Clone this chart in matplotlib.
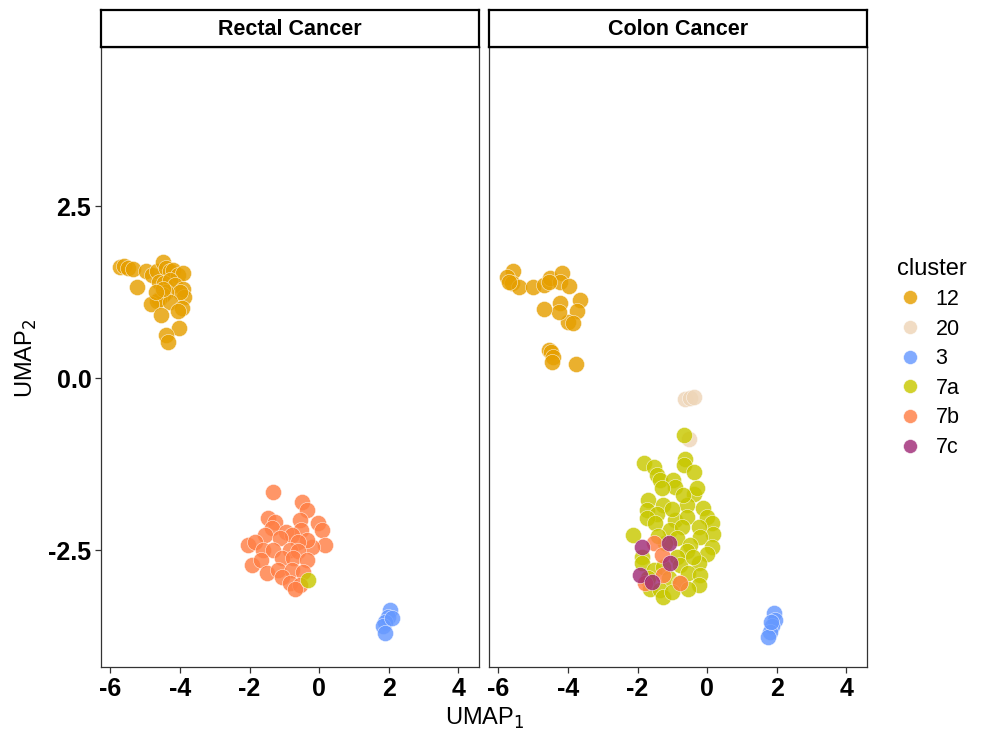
import numpy as np
import matplotlib
matplotlib.use("Agg")
import matplotlib.pyplot as plt
from matplotlib.lines import Line2D

plt.rcParams['font.family'] = ['Liberation Sans', 'DejaVu Sans']

# ---- data ----
clusters = ['12', '20', '3', '7a', '7b', '7c']
colors = {'12': '#E69F00', '20': '#EED5B7', '3': '#6699FF',
          '7a': '#C8C800', '7b': '#FF7F45', '7c': '#A02C78'}

rectal_12_x = [-5.73, -5.6, -5.5, -5.35, -5.24, -4.98, -4.8, -4.65, -4.5, -4.4, -4.3, -4.2,
               -4.05, -3.92, -4.6, -4.45, -4.3, -4.15, -3.92, -3.88, -4.0, -4.4, -4.5, -4.6,
               -4.65, -4.82, -4.3, -3.95, -4.05, -4.55, -4.02, -4.4, -4.35, -4.5, -4.7]
rectal_12_y = [1.62, 1.63, 1.6, 1.58, 1.32, 1.55, 1.5, 1.55, 1.68, 1.6, 1.55, 1.57,
               1.5, 1.52, 1.4, 1.38, 1.42, 1.35, 1.3, 1.18, 1.25, 1.25, 1.2, 1.15,
               1.12, 1.08, 1.1, 1.02, 0.98, 0.92, 0.73, 0.62, 0.52, 1.3, 1.25]

rectal_7b_x = [-1.32, -0.48, -0.34, -1.47, -1.27, -0.55, -0.03, 0.07, -1.37, -0.51, -0.94,
               -1.56, -0.79, -1.13, -2.04, -1.85, 0.16, -0.22, -0.36, -0.6, -1.61, -1.32,
               -0.84, -0.6, -1.94, -1.66, -1.08, -0.75, -0.36, -1.51, -1.18, -0.79, -0.46,
               -1.08, -0.84, -0.55, -0.7]
rectal_7b_y = [-1.65, -1.8, -1.92, -2.04, -2.09, -2.06, -2.11, -2.21, -2.18, -2.21, -2.23,
               -2.28, -2.28, -2.33, -2.43, -2.38, -2.43, -2.45, -2.35, -2.38, -2.5, -2.5,
               -2.5, -2.52, -2.72, -2.65, -2.62, -2.62, -2.65, -2.84, -2.79, -2.79, -2.82,
               -2.89, -2.98, -3.01, -3.06]

rectal_7a_x = [-0.32]
rectal_7a_y = [-2.93]

rectal_3_x = [2.03, 1.98, 1.89, 1.84, 1.89, 2.08]
rectal_3_y = [-3.37, -3.47, -3.54, -3.61, -3.71, -3.49]

colon_12_x = [-5.57, -5.76, -5.61, -5.42, -5.01, -4.68, -4.51, -4.18, -4.22, -3.96, -3.67,
              -3.74, -3.99, -3.85, -4.22, -4.27, -4.68, -4.56, -4.5, -4.42, -4.46, -3.76,
              -4.55, -5.7]
colon_12_y = [1.56, 1.47, 1.38, 1.32, 1.32, 1.35, 1.46, 1.53, 1.40, 1.34, 1.14,
              0.98, 0.82, 0.80, 1.09, 0.96, 1.01, 0.41, 0.38, 0.31, 0.24, 0.21,
              1.40, 1.40]

colon_20_x = [-0.63, -0.5, -0.39, -0.51]
colon_20_y = [-0.30, -0.29, -0.27, -0.89]

colon_3_x = [1.91, 1.95, 1.86, 1.81, 1.76, 1.84]
colon_3_y = [-3.42, -3.52, -3.61, -3.69, -3.76, -3.55]

colon_7b_x = [-1.54, -1.30, -1.26, -1.78, -0.78]
colon_7b_y = [-2.40, -2.57, -2.86, -2.98, -2.98]

colon_7c_x = [-1.88, -1.11, -1.06, -1.93, -1.59]
colon_7c_y = [-2.45, -2.40, -2.69, -2.86, -2.96]

colon_7a_x = [-0.68, -1.83, -1.54, -0.63, -0.68, -0.39, -1.45, -1.35, -0.97, -0.92, -1.30,
              -0.39, -1.69, -1.26, -0.58, -0.11, -1.73, -1.45, -1.73, -1.49, -0.92, -0.58,
              -0.01, 0.14, 0.18, -0.25, -1.06, -0.73, -2.12, -0.87, -0.20, -0.49, 0.14,
              -0.01, -0.58, -1.88, -0.87, -0.25, -0.78, -1.88, -1.54, -1.26, -0.54, -0.20,
              -1.69, -1.11, -0.82, -0.25, -1.64, -1.35, -0.54, -1.26, -1.01,
              -1.0, -0.3, -1.2, -0.4, -1.4, -0.7, -1.7]
colon_7a_y = [-0.83, -1.24, -1.29, -1.17, -1.26, -1.36, -1.41, -1.48, -1.48, -1.58, -1.60,
              -1.68, -1.77, -1.85, -1.85, -1.89, -1.92, -1.97, -2.04, -2.11, -2.06, -2.02,
              -2.02, -2.11, -2.26, -2.16, -2.21, -2.16, -2.28, -2.33, -2.31, -2.43, -2.45,
              -2.55, -2.52, -2.60, -2.60, -2.69, -2.72, -2.69, -2.79, -2.74, -2.84, -2.86,
              -2.94, -2.91, -2.98, -3.01, -3.06, -3.08, -3.06, -3.18, -3.11,
              -1.9, -1.6, -2.4, -2.6, -2.3, -1.7, -2.9]

panels = [
    ('Rectal Cancer', [('12', rectal_12_x, rectal_12_y), ('3', rectal_3_x, rectal_3_y),
                       ('7b', rectal_7b_x, rectal_7b_y), ('7a', rectal_7a_x, rectal_7a_y)]),
    ('Colon Cancer', [('12', colon_12_x, colon_12_y), ('20', colon_20_x, colon_20_y),
                      ('3', colon_3_x, colon_3_y), ('7a', colon_7a_x, colon_7a_y),
                      ('7b', colon_7b_x, colon_7b_y), ('7c', colon_7c_x, colon_7c_y)]),
]

xticks = [-6, -4, -2, 0, 2, 4]
yticks = [-2.5, 0.0, 2.5]

fig = plt.figure(figsize=(9.97, 7.47), dpi=100)
lefts = [0.1013, 0.4905]
w, h, b = 0.3794, 0.830, 0.107

for i, (title, groups) in enumerate(panels):
    ax = fig.add_axes([lefts[i], b, w, h])
    for cl, xs, ys in groups:
        ax.scatter(xs, ys, s=135, color=colors[cl], alpha=0.82,
                   edgecolors='#FFFFFF', linewidths=0.4, zorder=3)
    ax.set_xlim(-6.27, 4.6)
    ax.set_ylim(-4.2, 4.81)
    ax.set_xticks(xticks)
    ax.set_xticklabels(['%d' % t for t in xticks])
    ax.set_yticks(yticks)
    ax.set_yticklabels(['%.1f' % t for t in yticks])
    for s in ax.spines.values():
        s.set_linewidth(0.9)
        s.set_color('#333333')
    ax.tick_params(direction='out', length=4, width=0.9, color='#333333',
                   labelsize=18, pad=3)
    for lab in ax.get_xticklabels() + ax.get_yticklabels():
        lab.set_fontweight('bold')
    if i == 1:
        ax.tick_params(axis='y', left=False, labelleft=False)
    # facet strip
    sax = fig.add_axes([lefts[i], b + h, w, 0.049])
    sax.set_xticks([])
    sax.set_yticks([])
    for s in sax.spines.values():
        s.set_linewidth(1.6)
        s.set_color('black')
    sax.text(0.5, 0.47, title, ha='center', va='center', fontsize=15.5,
             fontweight='bold', transform=sax.transAxes)

fig.text(0.486, 0.038, 'UMAP$_1$', ha='center', va='center', fontsize=17)
fig.text(0.026, 0.52, 'UMAP$_2$', ha='center', va='center', fontsize=17,
         rotation=90)

handles = [Line2D([], [], marker='o', linestyle='', markersize=10,
                  markerfacecolor=colors[c], markeredgecolor='white',
                  markeredgewidth=0.4, alpha=0.82) for c in clusters]
leg = fig.legend(handles, clusters, title='cluster', loc='upper left',
                 bbox_to_anchor=(0.88, 0.68), frameon=False, fontsize=15.5,
                 title_fontsize=17, handlelength=1.2, handletextpad=0.6,
                 labelspacing=0.4, alignment='left')

fig.savefig('out.png', dpi=100)
